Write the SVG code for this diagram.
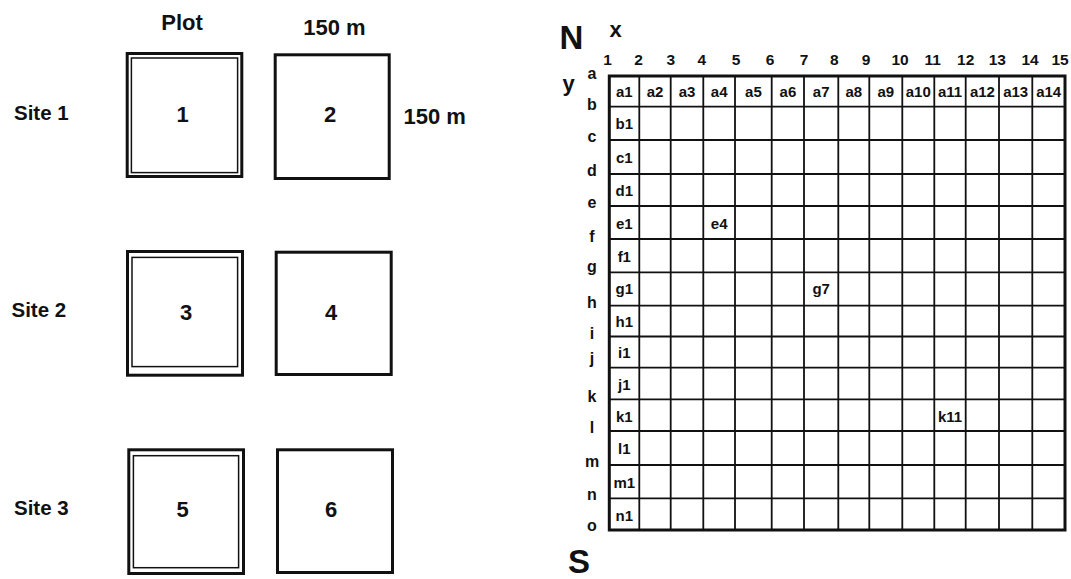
<svg xmlns="http://www.w3.org/2000/svg" width="1071" height="579" viewBox="0 0 1071 579">
<style>
text{font-family:"Liberation Sans",Arial,sans-serif;font-weight:bold;fill:#111}
.site{font-size:20.5px}
.dim{font-size:22px}
.num{font-size:22px;text-anchor:middle}
.outer{fill:none;stroke:#111;stroke-width:3}
.inner{fill:none;stroke:#111;stroke-width:1.5}
.gl{fill:none;stroke:#111;stroke-width:1.8}
.gb{fill:none;stroke:#111;stroke-width:3}
.col{font-size:15.5px;text-anchor:middle}
.row{font-size:16px;text-anchor:middle}
.cell{font-size:15px;text-anchor:middle}
.big{font-size:33px;text-anchor:middle}
.ax{font-size:22px;text-anchor:middle}
</style>
<rect width="1071" height="579" fill="#fff"/>
<g id="labels">
<text class="dim" x="182" y="29.5" text-anchor="middle">Plot</text>
<text class="dim" x="334.5" y="34.5" text-anchor="middle">150 m</text>
<text class="dim" x="403.5" y="123.5">150 m</text>
<text class="site" x="14" y="120">Site 1</text>
<text class="site" x="11.5" y="316.5">Site 2</text>
<text class="site" x="14" y="515">Site 3</text>
</g>
<g id="plot1">
<rect class="outer" x="127.2" y="53.5" width="114.6" height="123"/>
<rect class="inner" x="131.4" y="58" width="106.2" height="114.6"/>
<text class="num" x="182.7" y="121.5">1</text>
</g>
<g id="plot2">
<rect class="outer" x="275.2" y="54.8" width="114" height="123.7"/>
<text class="num" x="330" y="122">2</text>
</g>
<g id="plot3">
<rect class="outer" x="127.5" y="251.5" width="115" height="123.7"/>
<rect class="inner" x="132" y="257.4" width="105.6" height="109.2"/>
<text class="num" x="186" y="320">3</text>
</g>
<g id="plot4">
<rect class="outer" x="276.2" y="252.2" width="115" height="122.3"/>
<text class="num" x="331" y="320">4</text>
</g>
<g id="plot5">
<rect class="outer" x="128.8" y="449.8" width="114.7" height="123.7"/>
<rect class="inner" x="133.4" y="455.7" width="105.2" height="112"/>
<text class="num" x="182.7" y="517.3">5</text>
</g>
<g id="plot6">
<rect class="outer" x="277.5" y="449.8" width="115" height="122.7"/>
<text class="num" x="331" y="517">6</text>
</g>
<g id="compass">
<text class="big" x="571.5" y="49.3">N</text>
<text class="big" x="579" y="572.5">S</text>
<text class="ax" x="615.5" y="37.3">x</text>
<text class="ax" x="568.5" y="91">y</text>
</g>
<g id="grid">
<path class="gl" d="M639.3 76V530M670.7 76V530M703.3 76V530M735 76V530M771.7 76V530M804 76V530M838.3 76V530M869.3 76V530M902.3 76V530M934.3 76V530M965.7 76V530M999 76V530M1032.3 76V530
M609.3 106.7H1065M609.3 140H1065M609.3 174H1065M609.3 206H1065M609.3 239H1065M609.3 272.3H1065M609.3 305.7H1065M609.3 336.5H1065M609.3 367.7H1065M609.3 399.3H1065M609.3 431H1065M609.3 465H1065M609.3 498.3H1065"/>
<rect class="gb" x="609.3" y="76" width="455.7" height="454"/>
</g>
<g id="col-numbers">
<text class="col" x="607.5" y="65">1</text>
<text class="col" x="638.5" y="65">2</text>
<text class="col" x="670.7" y="65">3</text>
<text class="col" x="701.7" y="65">4</text>
<text class="col" x="736" y="65">5</text>
<text class="col" x="770" y="65">6</text>
<text class="col" x="804" y="65">7</text>
<text class="col" x="834.3" y="65">8</text>
<text class="col" x="866" y="65">9</text>
<text class="col" x="900" y="65">10</text>
<text class="col" x="932.7" y="65">11</text>
<text class="col" x="965.7" y="65">12</text>
<text class="col" x="997.3" y="65">13</text>
<text class="col" x="1030" y="65">14</text>
<text class="col" x="1060" y="65">15</text>
</g>
<g id="row-letters">
<text class="row" x="592" y="79">a</text>
<text class="row" x="592" y="110">b</text>
<text class="row" x="592" y="142">c</text>
<text class="row" x="592" y="176">d</text>
<text class="row" x="592" y="207.5">e</text>
<text class="row" x="592" y="241.5">f</text>
<text class="row" x="592" y="272">g</text>
<text class="row" x="592" y="307.5">h</text>
<text class="row" x="592" y="338.5">i</text>
<text class="row" x="592" y="364">j</text>
<text class="row" x="592" y="401.5">k</text>
<text class="row" x="592" y="433">l</text>
<text class="row" x="592" y="466.5">m</text>
<text class="row" x="592" y="500">n</text>
<text class="row" x="592" y="531">o</text>
</g>
<g id="cells">
<text class="cell" x="624.3" y="97">a1</text>
<text class="cell" x="655" y="97">a2</text>
<text class="cell" x="687" y="97">a3</text>
<text class="cell" x="719.2" y="97">a4</text>
<text class="cell" x="753.4" y="97">a5</text>
<text class="cell" x="787.9" y="97">a6</text>
<text class="cell" x="821.2" y="97">a7</text>
<text class="cell" x="853.8" y="97">a8</text>
<text class="cell" x="885.8" y="97">a9</text>
<text class="cell" x="918.3" y="97">a10</text>
<text class="cell" x="950" y="97">a11</text>
<text class="cell" x="982.4" y="97">a12</text>
<text class="cell" x="1015.7" y="97">a13</text>
<text class="cell" x="1048.7" y="97">a14</text>
<text class="cell" x="624.3" y="129">b1</text>
<text class="cell" x="624.3" y="163">c1</text>
<text class="cell" x="624.3" y="196">d1</text>
<text class="cell" x="624.3" y="228.5">e1</text>
<text class="cell" x="719.2" y="228.5">e4</text>
<text class="cell" x="624.3" y="261.5">f1</text>
<text class="cell" x="624.3" y="294">g1</text>
<text class="cell" x="821.2" y="294">g7</text>
<text class="cell" x="624.3" y="327">h1</text>
<text class="cell" x="624.3" y="358">i1</text>
<text class="cell" x="624.3" y="389.5">j1</text>
<text class="cell" x="624.3" y="421.5">k1</text>
<text class="cell" x="950" y="421.5">k11</text>
<text class="cell" x="624.3" y="454">l1</text>
<text class="cell" x="624.3" y="487.5">m1</text>
<text class="cell" x="624.3" y="520.5">n1</text>
</g>
</svg>
